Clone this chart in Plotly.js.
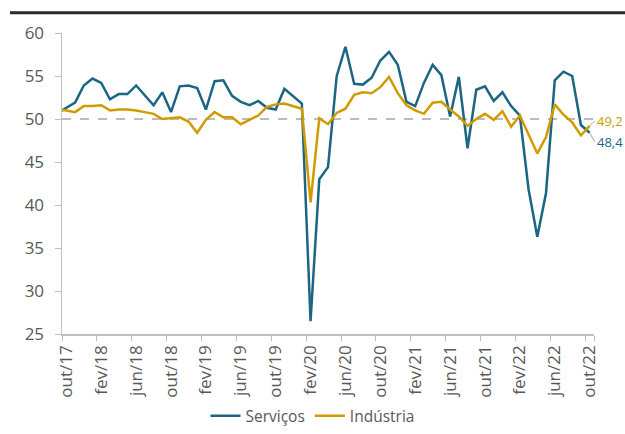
<!DOCTYPE html>
<html>
<head>
<meta charset="utf-8">
<script src="https://cdn.plot.ly/plotly-3.0.1.min.js"></script>
<style>html,body{margin:0;padding:0;background:#fff;}#chart{width:625px;height:434px;}</style>
</head>
<body>
<div id="chart"></div>
<script>
// Months (first entry is the month before the visible window; it is clipped at the axis)
var months = ["set/17",
  "out/17","nov/17","dez/17","jan/18","fev/18","mar/18","abr/18","mai/18","jun/18","jul/18","ago/18","set/18",
  "out/18","nov/18","dez/18","jan/19","fev/19","mar/19","abr/19","mai/19","jun/19","jul/19","ago/19","set/19",
  "out/19","nov/19","dez/19","jan/20","fev/20","mar/20","abr/20","mai/20","jun/20","jul/20","ago/20","set/20",
  "out/20","nov/20","dez/20","jan/21","fev/21","mar/21","abr/21","mai/21","jun/21","jul/21","ago/21","set/21",
  "out/21","nov/21","dez/21","jan/22","fev/22","mar/22","abr/22","mai/22","jun/22","jul/22","ago/22","set/22",
  "out/22"];

var servicos = [50.7,
  51.3,51.9,53.9,54.7,54.2,52.3,52.9,52.9,53.9,52.7,51.6,53.1,
  50.8,53.8,53.9,53.6,51.1,54.4,54.5,52.7,52.0,51.6,52.1,51.3,
  51.1,53.5,52.6,51.8,26.5,43.0,44.4,55.0,58.4,54.1,54.0,54.8,
  56.8,57.8,56.3,52.0,51.5,54.2,56.3,55.1,50.3,54.9,46.6,53.4,
  53.8,52.1,53.1,51.5,50.4,41.8,36.3,41.4,54.5,55.5,55.0,49.3,
  48.4];

var industria = [51.1,
  51.0,50.8,51.5,51.5,51.6,51.0,51.1,51.1,51.0,50.8,50.6,50.0,
  50.1,50.2,49.7,48.4,49.9,50.8,50.2,50.2,49.4,49.9,50.4,51.4,
  51.7,51.8,51.5,51.2,40.3,50.1,49.4,50.7,51.2,52.8,53.1,53.0,
  53.7,54.9,53.0,51.6,51.0,50.6,51.9,52.0,51.1,50.3,49.2,50.0,
  50.6,49.9,50.9,49.1,50.4,48.2,46.0,47.9,51.7,50.5,49.6,48.1,
  49.2];

var tickLabels = ["out/17","fev/18","jun/18","out/18","fev/19","jun/19","out/19","fev/20",
  "jun/20","out/20","fev/21","jun/21","out/21","fev/22","jun/22","out/22"];

var neutral = 50;
var seriesNames = ["Serviços","Indústria"];
var colors = ["#1B6685","#D19B00"];

var FONT = "Open Sans, Liberation Sans, sans-serif";
var GRAY = "#595959";
var AXIS = "#bfbfbf";

var traces = [
  {x: months, y: servicos, name: seriesNames[0], type: "scatter", mode: "lines",
   line: {color: colors[0], width: 2.5}, cliponaxis: true},
  {x: months, y: industria, name: seriesNames[1], type: "scatter", mode: "lines",
   line: {color: colors[1], width: 2.5}, cliponaxis: true}
];

var lastS = servicos[servicos.length - 1];
var lastI = industria[industria.length - 1];
var lastM = months[months.length - 1];
function fmt(v){ return v.toFixed(1).replace(".", ","); }

var layout = {
  width: 625, height: 434,
  margin: {l: 62, r: 30.5, t: 33.3, b: 99.7, autoexpand: false},
  paper_bgcolor: "#fff", plot_bgcolor: "#fff",
  font: {family: FONT, color: GRAY, size: 16},
  showlegend: true,
  legend: {orientation: "h", x: 0.5, xanchor: "center", xref: "container",
           y: 0.002, yanchor: "bottom", yref: "container",
           font: {family: FONT, size: 15.5, color: GRAY}, itemwidth: 30, traceorder: "normal"},
  xaxis: {
    type: "category", range: [0.5, months.length - 0.5],
    tickmode: "array", tickvals: tickLabels, ticktext: tickLabels,
    tickson: "boundaries", ticks: "outside", ticklen: 5, tickwidth: 1, tickcolor: AXIS,
    tickangle: -90, tickfont: {family: FONT, size: 17, color: GRAY}, ticklabelstandoff: 3,
    showline: true, linecolor: AXIS, linewidth: 1.5, showgrid: false, zeroline: false,
    automargin: false, fixedrange: true
  },
  yaxis: {
    range: [25, 60], tickmode: "linear", tick0: 25, dtick: 5,
    ticks: "outside", ticklen: 6, tickwidth: 1, tickcolor: AXIS,
    tickfont: {family: FONT, size: 17, color: GRAY}, ticklabelstandoff: 7,
    showline: true, linecolor: AXIS, linewidth: 1.5, showgrid: false, zeroline: false,
    automargin: false, fixedrange: true
  },
  shapes: [
    {type: "line", xref: "paper", yref: "y", x0: 0, x1: 1, y0: neutral, y1: neutral,
     line: {color: "#a6a6a6", width: 1.5, dash: "dash"}, layer: "below"},
    {type: "line", xref: "paper", yref: "paper", x0: -0.0977, x1: 1.06, y0: 1.0675, y1: 1.0675,
     line: {color: "#2b2b2b", width: 3}}
  ],
  annotations: [
    {x: lastM, y: lastI, xref: "x", yref: "y", text: fmt(lastI), showarrow: true,
     arrowhead: 0, arrowwidth: 1, arrowcolor: "#a6a6a6", ax: 5, ay: -5, xanchor: "left",
     font: {family: FONT, size: 13, color: colors[1]}},
    {x: lastM, y: lastS, xref: "x", yref: "y", text: fmt(lastS), showarrow: true,
     arrowhead: 0, arrowwidth: 1, arrowcolor: "#a6a6a6", ax: 5, ay: 9, xanchor: "left",
     font: {family: FONT, size: 13, color: colors[0]}}
  ]
};

Plotly.newPlot("chart", traces, layout, {displayModeBar: false, staticPlot: true});
</script>
</body>
</html>
